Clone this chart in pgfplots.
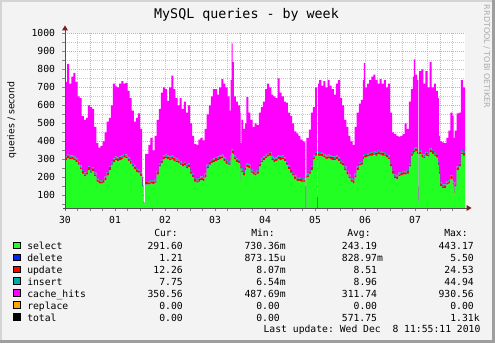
\documentclass[border=0pt]{standalone}
\usepackage{fontspec}
\setmainfont{DejaVu Sans}
\setmonofont{DejaVu Sans Mono}
\usepackage{pgfplots}
\usepackage{pgfplotstable}
\pgfplotsset{compat=1.18}

\definecolor{cselect}{HTML}{22FF22}
\definecolor{cdelete}{HTML}{0022FF}
\definecolor{cupdate}{HTML}{FF0000}
\definecolor{cinsert}{HTML}{00AAAA}
\definecolor{ccache}{HTML}{FF00FF}
\definecolor{creplace}{HTML}{FFA500}
\definecolor{ctotal}{HTML}{000000}
\definecolor{bgc}{HTML}{F3F3F3}
\definecolor{mgrid}{HTML}{E8A0A0}
\definecolor{ngrid}{HTML}{C8C8C8}
\definecolor{axisc}{HTML}{505050}
\definecolor{arrowc}{HTML}{7F1A1A}
\definecolor{shadea}{HTML}{D4D4D4}
\definecolor{shadeb}{HTML}{9E9E9E}

% h = hours since noon of the 30th; sel, del, upd, ins, cache = queries/second
\pgfplotstableread{
h sel del upd ins cache
0 295 1 12 8 414
1 305 1 16 4 504
2 300 1 7 13 399
3 300 1 14 6 439
4 295 1 10 10 464
5 285 1 12 8 424
6 270 1 16 4 359
7 245 1 7 13 374
8 220 1 14 6 299
9 205 1 10 10 294
10 215 1 12 8 294
11 240 1 16 4 339
12 225 1 7 13 344
13 235 1 14 6 324
14 205 1 10 10 254
15 175 1 12 8 194
16 165 1 16 4 179
17 165 1 7 13 189
18 170 1 14 6 209
19 185 1 10 10 244
20 210 1 12 8 279
21 240 1 16 4 269
22 270 1 7 13 309
23 285 1 14 6 414
24 295 1 10 10 389
25 290 1 12 8 389
26 295 1 16 4 404
27 300 1 7 13 414
28 310 1 14 6 389
29 305 1 10 10 399
30 290 1 12 8 369
31 275 1 16 4 344
32 260 1 7 13 289
33 245 1 14 6 244
34 230 1 10 10 279
35 225 1 12 8 309
36 205 1 16 4 244
37 150 1 7 13 29
37.5 55 1 2 2 0
38.5 160 1 14 6 149
40 160 1 10 10 199
41 165 1 12 8 234
42 160 1 16 4 169
43 170 1 7 13 239
44 215 1 14 6 284
45 260 1 10 10 299
46 280 1 12 8 369
47 300 1 16 4 379
48 305 1 7 13 364
49 300 1 14 6 304
50 295 1 10 10 384
51 300 1 12 8 444
52 290 1 16 4 379
53 285 1 7 13 334
54 280 1 14 6 299
55 270 1 10 10 349
56 260 1 12 8 299
57 265 1 16 4 334
58 250 1 7 13 289
59 255 1 14 6 324
60 220 1 10 10 259
61 200 1 12 8 209
62 175 1 16 4 189
63 170 1 7 13 189
64 175 1 14 6 214
65 185 1 10 10 214
66 180 1 12 8 204
67 200 1 16 4 249
68 250 1 7 13 279
69 270 1 14 6 309
70 280 1 10 10 349
71 285 1 12 8 384
72 290 1 16 4 379
73 295 1 7 13 344
74 300 1 14 6 379
75 305 1 10 10 419
76 290 1 12 8 409
77 275 1 16 4 404
78 270 1 7 13 359
79 265 1 14 6 284
79.5 300 1 10 10 419
80 335 1 12 8 588
80.5 330 1 16 4 489
81 300 1 7 13 329
82 285 1 14 6 314
83 280 1 10 10 299
84 250 1 12 8 289
84.3 180 1 16 4 189
84.7 230 1 7 13 269
85.5 210 1 14 6 239
86.5 240 1 10 10 239
87 255 1 12 8 369
88 250 1 16 4 289
89 225 1 7 13 274
90 215 1 14 6 244
91 210 1 10 10 269
92 220 1 12 8 249
93 260 1 16 4 279
94 285 1 7 13 284
95 295 1 14 6 304
96 305 1 10 10 364
97 315 1 12 8 384
98 320 1 16 4 359
99 295 1 7 13 344
100 285 1 14 6 344
101 290 1 10 10 329
102 300 1 12 8 429
103 295 1 16 4 354
104 300 1 7 13 329
105 290 1 14 6 309
106 270 1 10 10 324
107 245 1 12 8 294
108 225 1 16 4 294
109 210 1 7 13 269
110 190 1 14 6 244
111 180 1 10 10 244
112 180 1 12 8 229
113 175 1 16 4 214
114 175 1 7 13 204
115 170 1 14 6 204
115.4 30 1 2 2 115
115.8 200 1 10 10 199
117 220 1 12 8 224
118 240 1 16 4 299
119 300 1 7 13 269
120 320 1 14 6 359
121 30 1 2 2 55
121.5 320 1 10 10 379
122 320 1 12 8 399
123 315 1 16 4 374
124 310 1 7 13 404
125 300 1 14 6 379
126 305 1 10 10 414
127 300 1 12 8 389
128 295 1 16 4 374
129 295 1 7 13 344
130 300 1 14 6 399
131 290 1 10 10 429
132 275 1 12 8 344
133 265 1 16 4 314
134 240 1 7 13 259
135 215 1 14 6 244
136 195 1 10 10 214
137 175 1 12 8 204
138 165 1 16 4 194
139 200 1 7 13 259
140 240 1 14 6 299
141 265 1 10 10 324
142 270 1 12 8 339
143 300 1 16 4 419
143.5 310 1 7 13 505
144 310 1 14 6 369
145 315 1 10 10 384
146 320 1 12 8 399
147 320 1 16 4 419
148 325 1 7 13 424
149 320 1 14 6 399
150 330 1 10 10 369
151 325 1 12 8 399
152 320 1 16 4 379
153 320 1 7 13 399
154 310 1 14 6 369
155 300 1 10 10 399
156 260 1 12 8 279
157 220 1 16 4 209
158 195 1 7 13 224
159 190 1 14 6 219
160 205 1 10 10 200
161 210 1 12 8 199
162 215 1 16 4 204
163 215 1 7 13 264
164 220 1 14 6 229
165 260 1 10 10 339
166 320 1 12 8 349
167 330 1 16 4 409
167.5 340 1 7 13 494
168 345 1 14 6 404
169 330 1 10 10 389
169.6 70 1 2 2 75
170 330 1 12 8 439
171 310 1 16 4 469
172 305 1 7 13 394
173 320 1 14 6 449
174 315 1 10 10 364
175 340 1 12 8 481
176 330 1 16 4 349
177 320 1 7 13 379
178 310 1 14 6 349
179 270 1 10 10 349
179.5 220 1 12 8 189
180 150 1 16 4 229
181 140 1 7 13 234
182 140 1 14 6 229
183 160 1 10 10 239
184 165 1 12 8 274
185 190 1 16 4 349
186 160 1 7 13 359
186.5 110 1 14 6 289
187 150 1 10 10 289
188 240 1 12 8 294
189 260 1 16 4 279
190 330 1 7 13 389
191 320 1 14 6 359
192 310 1 10 10 309
}\data

\tikzset{lf/.style={font=\ttfamily\fontsize{7.3}{8}\selectfont, inner sep=0pt}}

\newcommand\legrow[7]{%
  \pgfmathsetmacro\by{343-249.3-11.95*#1}%
  \filldraw[fill=#2, draw=black, line width=0.75pt] (13.7,\by+0.4) rectangle (20.5,\by+7.2);
  \node[anchor=base west, lf] at (27,\by) {#3};
  \node[anchor=base east, lf] at (188.9,\by) {#4};
  \node[anchor=base east, lf] at (285.9,\by) {#5};
  \node[anchor=base east, lf] at (383.2,\by) {#6};
  \node[anchor=base east, lf] at (479.9,\by) {#7};
}

\begin{document}
\begin{tikzpicture}[x=0.75pt,y=0.75pt]
\fill[bgc] (0,0) rectangle (495,343);
\useasboundingbox (0,0) rectangle (495,343);
\fill[shadea] (0,0) rectangle (2,343);
\fill[shadea] (0,341) rectangle (495,343);
\fill[shadeb] (492,0) rectangle (495,343);
\fill[shadeb] (0,0) rectangle (495,3);

\begin{axis}[
  name=a, at={(48.75pt,101.25pt)}, anchor=south west,
  scale only axis, width=300pt, height=131.03pt,
  xmin=0, xmax=192, ymin=30, ymax=1000,
  axis background/.style={fill=white},
  axis x line*=bottom, axis y line*=left,
  axis line style={draw=none},
  xtick={12,36,...,180}, xticklabels={},
  minor xtick={6,18,24,30,42,48,54,66,72,78,90,96,102,114,120,126,138,144,150,162,168,174,186},
  extra x ticks={0,24,48,72,96,120,144,168},
  extra x tick labels={30,01,02,03,04,05,06,07},
  extra x tick style={grid=none},
  ytick={100,200,...,1000},
  minor ytick={50,150,...,950},
  grid=both,
  major grid style={mgrid, line width=0.75pt, dash pattern=on 0.75pt off 0.75pt},
  minor grid style={ngrid, line width=0.75pt, dash pattern=on 0.75pt off 0.75pt},
  tick align=outside, major tick length=2.25pt, minor tick length=2.25pt,
  every tick/.style={axisc!70, line width=0.75pt},
  /pgf/number format/assume math mode=true,
  /pgf/number format/1000 sep={},
  ticklabel style={font=\ttfamily\fontsize{7.3}{8}\selectfont, inner sep=0pt},
  xticklabel style={anchor=base, yshift=-9.5pt},
  yticklabel style={anchor=east, xshift=-5pt},
  stack plots=y,
]
\addplot[draw=none, fill=cselect, const plot] table[x=h, y=sel]{\data} \closedcycle;
\addplot[draw=none, fill=cdelete, const plot] table[x=h, y=del]{\data} \closedcycle;
\addplot[draw=none, fill=cupdate, const plot] table[x=h, y=upd]{\data} \closedcycle;
\addplot[draw=none, fill=cinsert, const plot] table[x=h, y=ins]{\data} \closedcycle;
\addplot[draw=none, fill=ccache, const plot] table[x=h, y=cache]{\data} \closedcycle;
\end{axis}

% axis lines and arrows
\draw[axisc, line width=0.75pt] (65,133) -- (65,313);
\draw[axisc, line width=0.75pt] (63,135) -- (467,135);
\fill[arrowc] (62,312.5) -- (68,312.5) -- (65,317.5) -- cycle;
\fill[arrowc] (466.5,132) -- (466.5,138) -- (471.5,135) -- cycle;

% title, unit, watermark
\node[anchor=base, font=\ttfamily\fontsize{10}{12}\selectfont, inner sep=0pt] at (246.5,324.7) {MySQL queries - by week};
\node[rotate=90, font=\fontsize{7}{8}\selectfont, inner sep=0pt] at (11.7,223) {queries / second};
\node[rotate=-90, font=\fontsize{6}{7}\selectfont, text=black!33, inner sep=0pt] at (486.7,286.5) {RRDTOOL / TOBI OETIKER};

% legend
\node[anchor=base west, lf] at (154,106.3) {Cur:};
\node[anchor=base west, lf] at (251,106.3) {Min:};
\node[anchor=base west, lf] at (347,106.3) {Avg:};
\node[anchor=base west, lf] at (444,106.3) {Max:};
\legrow{0}{cselect}{select}{291.60\phantom{m}}{730.36m}{243.19\phantom{m}}{443.17\phantom{m}}
\legrow{1}{cdelete}{delete}{1.21\phantom{m}}{873.15u}{828.97m}{5.50\phantom{m}}
\legrow{2}{cupdate}{update}{12.26\phantom{m}}{8.07m}{8.51\phantom{m}}{24.53\phantom{m}}
\legrow{3}{cinsert}{insert}{7.75\phantom{m}}{6.54m}{8.96\phantom{m}}{44.94\phantom{m}}
\legrow{4}{ccache}{cache\_hits}{350.56\phantom{m}}{487.69m}{311.74\phantom{m}}{930.56\phantom{m}}
\legrow{5}{creplace}{replace}{0.00\phantom{m}}{0.00\phantom{m}}{0.00\phantom{m}}{0.00\phantom{m}}
\legrow{6}{ctotal}{total}{0.00\phantom{m}}{0.00\phantom{m}}{571.75\phantom{m}}{1.31k}
\node[anchor=base east, lf] at (480.7,10.3) {Last update: Wed Dec~~8 11:55:11 2010};
\end{tikzpicture}
\end{document}
